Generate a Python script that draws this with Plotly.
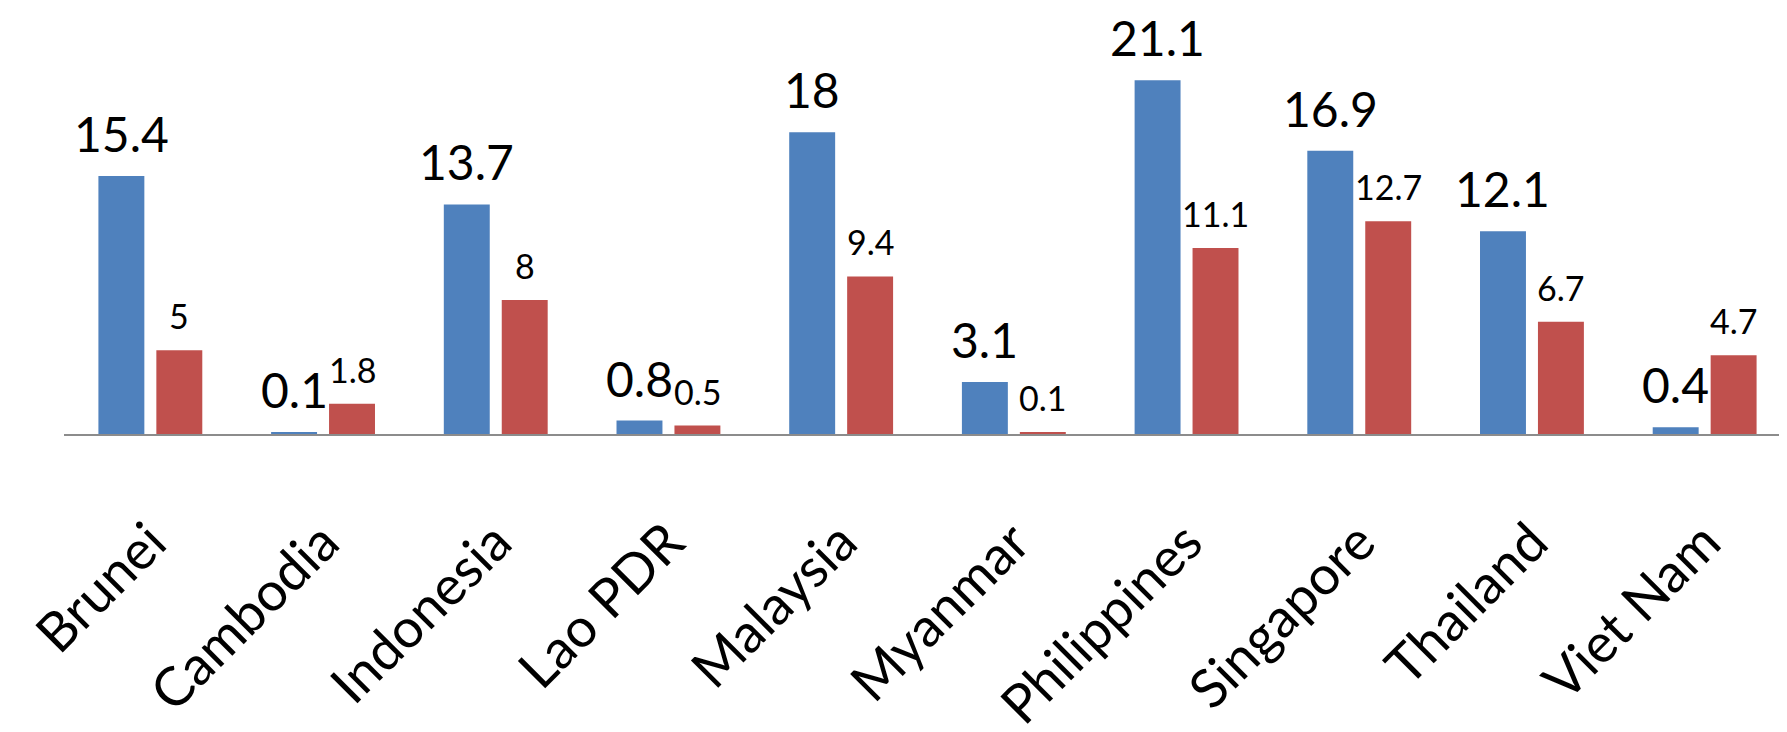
import plotly.graph_objects as go

categories = ["Brunei", "Cambodia", "Indonesia", "Lao PDR", "Malaysia",
              "Myanmar", "Philippines", "Singapore", "Thailand", "Viet Nam"]
series_blue = [15.4, 0.1, 13.7, 0.8, 18, 3.1, 21.1, 16.9, 12.1, 0.4]
series_red = [5, 1.8, 8, 0.5, 9.4, 0.1, 11.1, 12.7, 6.7, 4.7]

BLUE = "#4F81BD"
RED = "#C0504D"
FONT = "Lato, 'Open Sans', sans-serif"

fig = go.Figure()
fig.add_trace(go.Bar(x=categories, y=series_blue, marker=dict(color=BLUE, line=dict(width=0)),
                     name="blue", hoverinfo="skip"))
fig.add_trace(go.Bar(x=categories, y=series_red, marker=dict(color=RED, line=dict(width=0)),
                     name="red", hoverinfo="skip"))

annotations = []
for c, v in zip(categories, series_blue):
    annotations.append(dict(x=c, y=v, text=f"{v:g}", showarrow=False, xanchor="center",
                            yanchor="bottom", xshift=-29, yshift=12,
                            font=dict(family=FONT, size=48, color="black")))
for c, v in zip(categories, series_red):
    annotations.append(dict(x=c, y=v, text=f"{v:g}", showarrow=False, xanchor="center",
                            yanchor="bottom", xshift=29, yshift=12,
                            font=dict(family=FONT, size=34, color="black")))

fig.update_layout(
    width=1787, height=732,
    margin=dict(l=56, r=4, t=7, b=299),
    paper_bgcolor="white", plot_bgcolor="white",
    barmode="group", bargap=0.329, bargroupgap=0.207,
    showlegend=False,
    annotations=annotations,
    font=dict(family=FONT, color="black"),
)
fig.update_xaxes(showline=True, linecolor="#8c8c8c", linewidth=2, showgrid=False,
                 ticks="", tickangle=-45, ticklabelstandoff=53,
                 tickfont=dict(family=FONT, size=54, color="black"))
fig.update_yaxes(visible=False, range=[0, 25], showgrid=False, zeroline=False)

fig.write_html("out.html")
